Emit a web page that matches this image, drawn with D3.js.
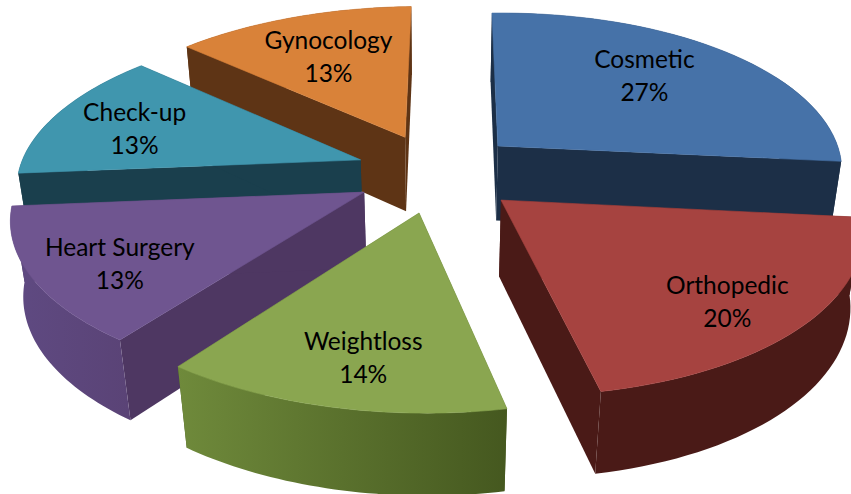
<!DOCTYPE html>
<meta charset="utf-8">
<script src="https://d3js.org/d3.v7.min.js"></script>
<style>
  html, body { margin: 0; background: #fff; }
  svg { display: block; }
  text { font-family: Lato, "Open Sans", sans-serif; font-size: 24.5px; fill: #000; text-anchor: middle; }
</style>
<body>
<div id="my_dataviz"></div>
<script>
// values (slice sizes, the labels show them rounded)
var categories = ["Cosmetic", "Orthopedic", "Weightloss", "Heart Surgery", "Check-up", "Gynocology"];
var values = [27, 20.2, 13.5, 13.4, 13, 13];

// slice colours: top face, radial wall, outer wall left and right
var topColors = ["#4672a8", "#a64340", "#8aa650", "#6f5590", "#4096ae", "#d98239"];
var sideColors = ["#1c2f47", "#4a1a17", "#47591f", "#4e3762", "#1a3f4d", "#5e3415"];
var outerLeft = ["#1c2f47", "#4a1a17", "#6f8a3b", "#5f4a82", "#1a3f4d", "#5e3415"];
var outerRight = ["#1c2f47", "#4a1a17", "#45581f", "#5a4376", "#1a3f4d", "#5e3415"];

var width = 851, height = 494;

// camera for the tilted, exploded pie
var cx = 438, cy = 172.5, radius = 345, tilt = 0.46, persp = 0.143, sink = 0.03,
    thick = 0.225, explode = 0.24, explodeY = 1.05, rotation = 0.02, shear = 0.0365, bend = 0.0161, roll = 0.02;

// label anchor: radial fraction, then a nudge in pixels
var labelRadius = [0.62, 0.62, 0.62, 0.62, 0.62, 0.62];
var labelNudge = [[2, -17], [47, 20], [-3, 24], [-43, 13], [-35, -9], [-3, -11]];

var percent = d3.format(".0f");

function project(X, Y, z) {
  var w = 1 - persp * Y + sink * z;
  return [cx + radius * (X + shear * Y + bend * Y * Y) / w,
          cy + radius * (tilt * Y + thick * z - roll * X) / w];
}

var svg = d3.select("#my_dataviz")
  .append("svg")
    .attr("width", width)
    .attr("height", height);
var defs = svg.append("defs");

var arcs = d3.pie().sort(null).startAngle(rotation).endAngle(rotation + 2 * Math.PI)(values);

arcs.forEach(function(d, i) {
  var mid = (d.startAngle + d.endAngle) / 2;
  d.index = i;
  d.dx = explode * Math.sin(mid);
  d.dy = -explode * explodeY * Math.cos(mid);
  d.mid = mid;
});

function plane(d, a, r, z) {
  return project(d.dx + r * Math.sin(a), d.dy - r * Math.cos(a), z);
}

var line = d3.line();

// paint back to front
var order = arcs.slice().sort(function(a, b) { return a.dy - b.dy; });

order.forEach(function(d) {
  var i = d.index;
  var steps = d3.range(0, 41).map(function(t) {
    return d.startAngle + (d.endAngle - d.startAngle) * t / 40;
  });
  var topArc = steps.map(function(a) { return plane(d, a, 1, 0); });
  var baseArc = steps.map(function(a) { return plane(d, a, 1, 1); });
  var apexTop = plane(d, 0, 0, 0), apexBase = plane(d, 0, 0, 1);

  var g = svg.append("g");

  // radial walls
  [topArc[0], topArc[40]].forEach(function(p, j) {
    var q = j ? baseArc[40] : baseArc[0];
    g.append("path")
      .attr("d", line([apexTop, p, q, apexBase]) + "Z")
      .attr("fill", sideColors[i]);
  });

  // outer wall, shaded left to right
  var xs = d3.extent(topArc.concat(baseArc), function(p) { return p[0]; });
  var grad = defs.append("linearGradient")
    .attr("id", "outer" + i)
    .attr("gradientUnits", "userSpaceOnUse")
    .attr("x1", xs[0]).attr("x2", xs[1]).attr("y1", 0).attr("y2", 0);
  grad.append("stop").attr("offset", 0).attr("stop-color", outerLeft[i]);
  grad.append("stop").attr("offset", 1).attr("stop-color", outerRight[i]);
  g.append("path")
    .attr("d", line(topArc.concat(baseArc.slice().reverse())) + "Z")
    .attr("fill", "url(#outer" + i + ")");

  // top face
  g.append("path")
    .attr("d", line([apexTop].concat(topArc)) + "Z")
    .attr("fill", topColors[i])
    .attr("stroke", topColors[i])
    .attr("stroke-width", 0.6);
});

// labels
arcs.forEach(function(d, i) {
  var p = plane(d, d.mid, labelRadius[i], 0);
  var t = svg.append("text")
    .attr("x", p[0] + labelNudge[i][0])
    .attr("y", p[1] + labelNudge[i][1]);
  t.append("tspan").attr("x", p[0] + labelNudge[i][0]).text(categories[i]);
  t.append("tspan").attr("x", p[0] + labelNudge[i][0]).attr("dy", 33).text(percent(values[i]) + "%");
});
</script>
</body>
